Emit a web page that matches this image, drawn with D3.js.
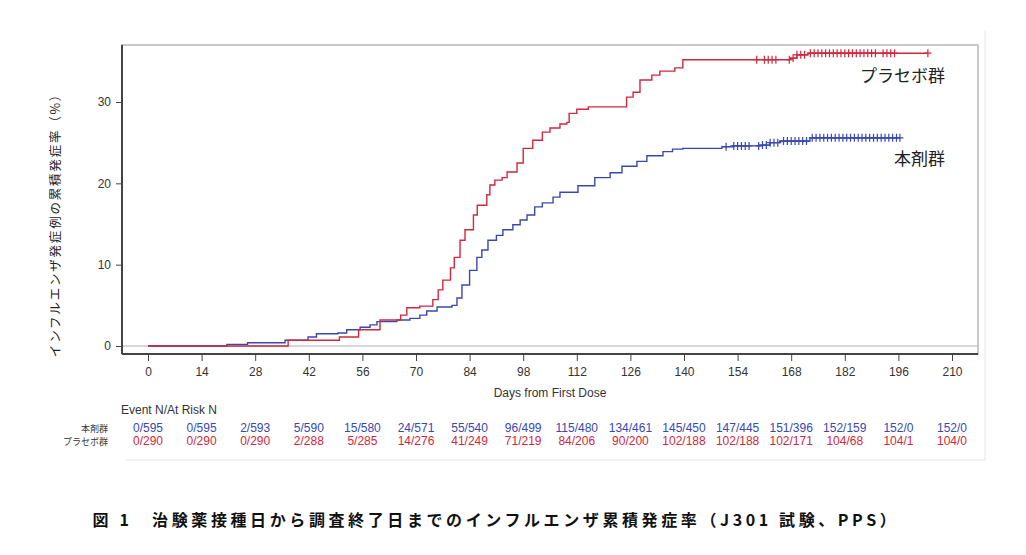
<!DOCTYPE html><html><head><meta charset="utf-8"><script src="https://cdn.jsdelivr.net/npm/d3@7"></script>
<style>body{margin:0;background:#fff}</style></head><body><svg id="c" width="1026" height="555"></svg><script>
const xTicks=[0,14,28,42,56,70,84,98,112,126,140,154,168,182,196,210];
const yTicks=[0,10,20,30];
const placeboDays=[0,36.6,50,55,60.6,66,67.6,71,74.4,75.8,77,79,80,81.5,82.8,85,86,88.5,89.3,90.6,92.5,93.8,96.4,98,100.5,103,105,107.6,109.4,110,112,115,125,126.7,128.5,131.6,133.7,137.6,139.7,167.7,169.5,172.4,203.7];
const placeboPct=[0,0.7,1.1,2.0,3.2,3.8,4.7,4.9,5.7,6.9,8.1,9.6,10.9,13,14.3,16.1,17.3,18.6,19.8,20.4,20.7,21.4,22.5,24.3,25.3,26.3,26.8,27.3,27.5,28.6,29.1,29.4,30.6,31.2,32.7,33.3,33.8,34.2,35.2,35.4,35.8,36.0,36.0];
const activeDays=[0,20.6,26,35.8,41.8,44,49.6,51.9,55.4,58,59.8,65,68.4,71,72.8,75.5,79.4,80.7,82,84,85.9,87.2,88.8,91,92.7,95.3,97.2,99,101,103,105.8,107.6,112.3,116.7,120.7,123.8,127.7,130.3,134.5,137,139.7,149.9,152.8,159.8,162.4,165,172.9,196.4];
const activePct=[0,0.2,0.4,0.7,1.1,1.5,1.6,2.0,2.3,2.6,3.0,3.2,3.4,3.8,4.3,4.8,5.0,5.9,7.5,9.3,10.9,11.8,13.0,13.6,14.3,14.9,15.5,16.1,17.1,17.6,18.3,18.9,19.7,20.7,21.3,22.1,22.7,23.4,23.9,24.2,24.3,24.5,24.6,24.7,25.0,25.2,25.6,25.6];
const placeboCensor=[159,161,162,163,164,167.5,168.5,169.5,170.5,171.5,173,174,175,176,177,178,179,180,181,182,183,184,185,186,187,188,189,190,192,193,194,195,203.7];
const activeCensor=[151,153,154,155,156,157,159.5,160.5,161.5,162.5,163.5,164.5,166,167,168,169,170,171,172,173.5,174.5,175.5,176.5,177.5,178.5,179.5,180.5,181.5,182.5,183.5,184.5,185.5,186.5,187.5,188.5,189.5,190.5,191.5,192.5,193.5,194.5,195.5,196.4];
const activeRisk=["0/595","0/595","2/593","5/590","15/580","24/571","55/540","96/499","115/480","134/461","145/450","147/445","151/396","152/159","152/0","152/0"];
const placeboRisk=["0/290","0/290","0/290","2/288","5/285","14/276","41/249","71/219","84/206","90/200","102/188","102/188","102/171","104/68","104/1","104/0"];
const BLUE="#3848b0",RED="#d0283c";
const svg=d3.select("#c"),F="Liberation Sans, Arial, sans-serif";
const x=d3.scaleLinear().domain([0,210]).range([148,952]);
const y=d3.scaleLinear().domain([0,30]).range([346,102]);
svg.append("path").attr("d","M985,30V460H125").attr("fill","none").attr("stroke","#e4e4e4");
svg.append("rect").attr("x",122).attr("y",45).attr("width",856).attr("height",309).attr("fill","none").attr("stroke","#b8b8b8").attr("stroke-width",1.5);
svg.append("line").attr("x1",122).attr("x2",978).attr("y1",y(0)).attr("y2",y(0)).attr("stroke","#c8c8c8").attr("stroke-width",1.5);
svg.append("g").attr("transform","translate(0,354)").call(d3.axisBottom(x).tickValues(xTicks).tickSize(7).tickPadding(6)).call(g=>{g.select(".domain").attr("d","M122,0H978").attr("stroke","#444").attr("stroke-width",2);g.selectAll("text").attr("font-family",F).attr("font-size",12).attr("fill","#333");g.selectAll("line").attr("stroke","#444");});
svg.append("g").attr("transform","translate(122,0)").call(d3.axisLeft(y).tickValues(yTicks).tickSize(6).tickPadding(5)).call(g=>{g.select(".domain").attr("d","M0,45V354").attr("stroke","#444").attr("stroke-width",2);g.selectAll("text").attr("font-family",F).attr("font-size",12).attr("fill","#333");g.selectAll("line").attr("stroke","#444");});
const line=d3.line().curve(d3.curveStepAfter).x(d=>x(d[0])).y(d=>y(d[1]));
function draw(days,pct,cens,col){
 svg.append("path").datum(days.map((d,i)=>[d,pct[i]])).attr("d",line).attr("fill","none").attr("stroke",col).attr("stroke-width",1.4);
 const val=t=>{let v=0;days.forEach((d,i)=>{if(d<=t)v=pct[i];});return v;};
 svg.append("g").selectAll("path").data(cens).join("path").attr("d",t=>`M${x(t)},${y(val(t))-4}v8M${x(t)-3.5},${y(val(t))}h7`).attr("stroke",col).attr("stroke-width",1.2);
}
draw(activeDays,activePct,activeCensor,BLUE);
draw(placeboDays,placeboPct,placeboCensor,RED);
const SER="Noto Sans CJK JP";
svg.append("text").attr("x",945).attr("y",82).attr("text-anchor","end").attr("font-family",SER).attr("font-size",17).attr("fill","#222").text("プラセボ群");
svg.append("text").attr("x",945).attr("y",165).attr("text-anchor","end").attr("font-family",SER).attr("font-size",17).attr("fill","#222").text("本剤群");
svg.append("text").attr("transform","translate(60,222) rotate(-90)").attr("text-anchor","middle").attr("font-family",SER).attr("font-size",12.5).attr("letter-spacing",1.8).attr("fill","#222").text("インフルエンザ発症例の累積発症率（%）");
svg.append("text").attr("x",550).attr("y",397).attr("text-anchor","middle").attr("font-family",F).attr("font-size",12).attr("fill","#333").text("Days from First Dose");
svg.append("text").attr("x",121).attr("y",414).attr("font-family",F).attr("font-size",12).attr("fill","#333").text("Event N/At Risk N");
svg.append("text").attr("x",108).attr("y",432).attr("text-anchor","end").attr("font-family",SER).attr("font-size",9).attr("fill","#333").text("本剤群");
svg.append("text").attr("x",108).attr("y",445).attr("text-anchor","end").attr("font-family",SER).attr("font-size",9).attr("fill","#333").text("プラセボ群");
svg.append("g").selectAll("text").data(activeRisk).join("text").attr("x",(d,i)=>x(xTicks[i])).attr("y",432).attr("text-anchor","middle").attr("font-family",F).attr("font-size",12).attr("fill",BLUE).text(d=>d);
svg.append("g").selectAll("text").data(placeboRisk).join("text").attr("x",(d,i)=>x(xTicks[i])).attr("y",445).attr("text-anchor","middle").attr("font-family",F).attr("font-size",12).attr("fill",RED).text(d=>d);
svg.append("text").attr("x",496).attr("y",526).attr("text-anchor","middle").attr("font-family",SER).attr("font-weight","bold").attr("font-size",16).attr("letter-spacing",3.6).attr("fill","#111").text("図 1　治験薬接種日から調査終了日までのインフルエンザ累積発症率（J301 試験、PPS）");
</script></body></html>
